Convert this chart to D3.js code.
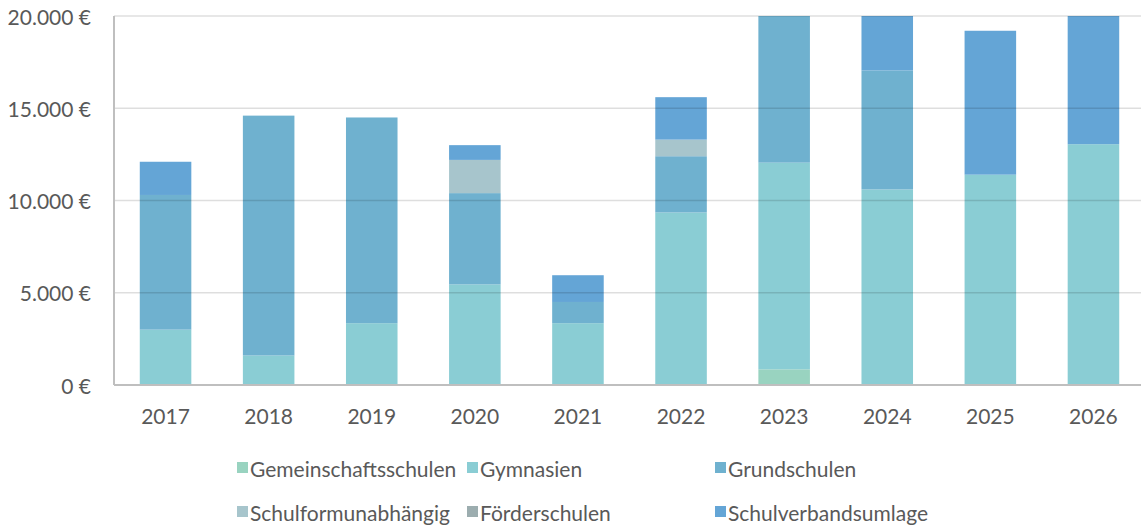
<!DOCTYPE html>
<html>
<head>
<meta charset="utf-8">
<script src="https://cdn.jsdelivr.net/npm/d3@7"></script>
<style>
  body { margin: 0; background: #fff; }
  text { font-family: Lato, "Open Sans", sans-serif; fill: #595959; }
</style>
</head>
<body>
<div id="chart"></div>
<script>
// Jahre
var years = ['2017', '2018', '2019', '2020', '2021', '2022', '2023', '2024', '2025', '2026'];

// Reihen (von unten nach oben gestapelt)
var seriesNames = ['Gemeinschaftsschulen', 'Gymnasien', 'Grundschulen', 'Schulformunabhängig', 'Förderschulen', 'Schulverbandsumlage'];
var gemeinschaftsschulen = [0, 0, 0, 0, 0, 0, 850, 0, 0, 0];
var gymnasien            = [3000, 1600, 3350, 5450, 3350, 9350, 11200, 10600, 11400, 13050];
var grundschulen         = [7300, 13000, 11150, 4950, 1150, 3050, 8600, 6450, 0, 0];
var schulformunabh       = [0, 0, 0, 1800, 0, 900, 0, 0, 0, 0];
var foerderschulen       = [0, 0, 0, 0, 0, 0, 0, 0, 0, 0];
var schulverband         = [1800, 0, 0, 800, 1450, 2300, 0, 3500, 7800, 7500];

var yTicks = [0, 5000, 10000, 15000, 20000];
var colors = ['#99d3c0', '#8acdd4', '#6fb1cf', '#a7c5cc', '#9cadaf', '#64a5d6'];

var width = 1141, height = 526;
var plotLeft = 114, plotRight = 1145, plotTop = 16, plotBottom = 385;

var rows = years.map(function(y, i) {
  return {
    year: y,
    s0: gemeinschaftsschulen[i], s1: gymnasien[i], s2: grundschulen[i],
    s3: schulformunabh[i], s4: foerderschulen[i], s5: schulverband[i]
  };
});
var stack = d3.stack().keys(['s0', 's1', 's2', 's3', 's4', 's5'])(rows);

var x = d3.scaleBand().domain(years).range([plotLeft, plotRight]).paddingInner(0.5).paddingOuter(0.25);
var y = d3.scaleLinear().domain([0, 20000]).range([plotBottom, plotTop]);

var svg = d3.select('#chart').append('svg')
  .attr('width', width)
  .attr('height', height);

svg.append('defs').append('clipPath').attr('id', 'plot')
  .append('rect').attr('x', plotLeft).attr('y', plotTop).attr('width', width - plotLeft).attr('height', plotBottom - plotTop);

// Balken
var layers = svg.append('g').attr('clip-path', 'url(#plot)');
layers.selectAll('g')
  .data(stack)
  .enter()
  .append('g')
    .style('fill', function(d, i) { return colors[i]; })
  .selectAll('rect')
  .data(function(d) { return d; })
  .enter()
  .append('rect')
    .attr('x', function(d) { return x(d.data.year); })
    .attr('width', x.bandwidth())
    .attr('y', function(d) { return y(d[1]); })
    .attr('height', function(d) { return y(d[0]) - y(d[1]); });

// Gitterlinien (über den Balken, durchscheinend)
svg.selectAll('line.grid')
  .data(yTicks.slice(1))
  .enter()
  .append('line')
    .attr('x1', plotLeft).attr('x2', width)
    .attr('y1', function(d) { return y(d); })
    .attr('y2', function(d) { return y(d); })
    .style('stroke', '#000')
    .style('stroke-opacity', 0.13)
    .style('stroke-width', 1.5);

// Achsen
svg.append('line')
  .attr('x1', plotLeft).attr('x2', plotLeft).attr('y1', plotTop).attr('y2', plotBottom)
  .style('stroke', '#bfbfbf').style('stroke-width', 2);
svg.append('line')
  .attr('x1', plotLeft).attr('x2', width).attr('y1', plotBottom).attr('y2', plotBottom)
  .style('stroke', '#bfbfbf').style('stroke-width', 2);

var fmt = d3.formatLocale({ decimal: ',', thousands: '.', grouping: [3], currency: ['', ' €'] }).format('$,.0f');

svg.selectAll('text.ytick')
  .data(yTicks)
  .enter()
  .append('text')
    .text(function(d) { return fmt(d); })
    .attr('x', 91)
    .attr('y', function(d) { return y(d); })
    .attr('dominant-baseline', 'central')
    .style('text-anchor', 'end')
    .style('font-size', '21px');

svg.selectAll('text.xtick')
  .data(years)
  .enter()
  .append('text')
    .text(function(d) { return d; })
    .attr('x', function(d) { return x(d) + x.bandwidth() / 2; })
    .attr('y', 415)
    .attr('dominant-baseline', 'central')
    .style('text-anchor', 'middle')
    .style('font-size', '21px');

// Legende
var legendPos = [[237, 468], [467, 468], [715, 468], [237, 512], [467, 512], [715, 512]];
var legend = svg.selectAll('g.legend')
  .data(seriesNames)
  .enter()
  .append('g')
    .attr('transform', function(d, i) { return 'translate(' + legendPos[i][0] + ',' + legendPos[i][1] + ')'; });
legend.append('rect')
  .attr('x', 0).attr('y', -6).attr('width', 11).attr('height', 11)
  .style('fill', function(d, i) { return colors[i]; });
legend.append('text')
  .text(function(d) { return d; })
  .attr('x', 13).attr('y', 0)
  .attr('dominant-baseline', 'central')
  .style('font-size', '21px');
</script>
</body>
</html>
